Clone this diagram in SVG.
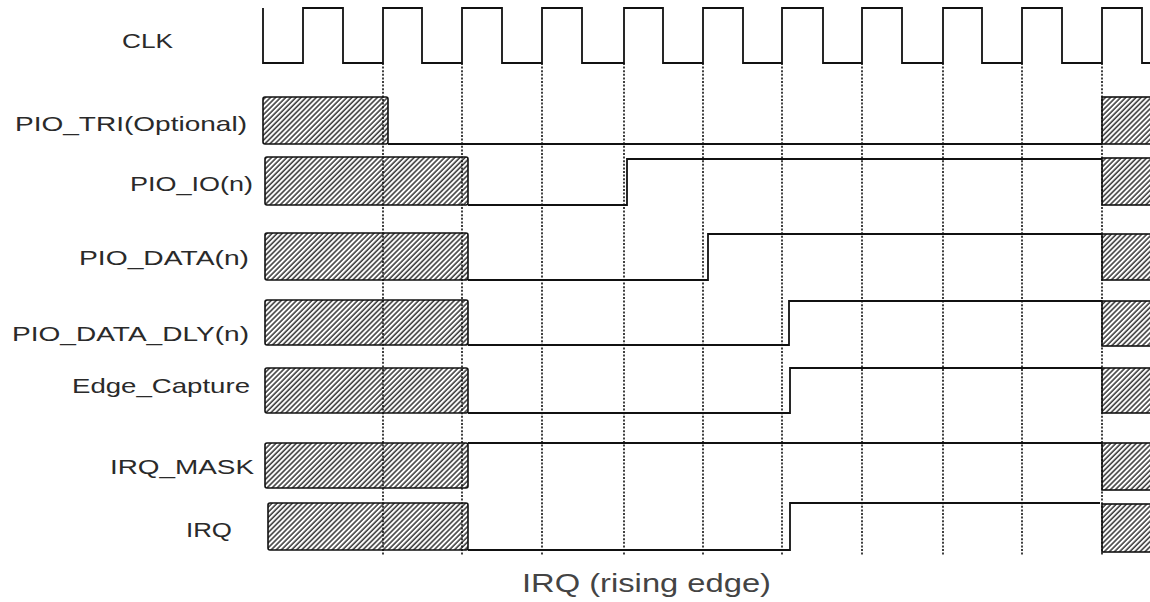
<svg xmlns="http://www.w3.org/2000/svg" width="1150" height="602" viewBox="0 0 1150 602">
<defs>
<pattern id="hatch" width="3.6" height="10" patternUnits="userSpaceOnUse" patternTransform="rotate(45)">
<rect width="3.6" height="10" fill="#fff"/>
<line x1="1" y1="0" x2="1" y2="10" stroke="#333" stroke-width="1.5"/>
</pattern>
<style>
.lbl{font-family:"Liberation Sans",Arial,sans-serif;font-size:21px;fill:#2a2a2a}
.cap{font-family:"Liberation Sans",Arial,sans-serif;font-size:25px;fill:#444}
.wave{fill:none;stroke:#111;stroke-width:1.8}
.box{fill:url(#hatch);stroke:#111;stroke-width:1.6}
.grid{stroke:#111;stroke-width:1.6;stroke-dasharray:2 1.6;fill:none}
</style>
</defs>
<rect width="1150" height="602" fill="#fff"/>

<g id="labels">
<text class="lbl" x="122" y="48" textLength="51" lengthAdjust="spacingAndGlyphs">CLK</text>
<text class="lbl" x="15" y="131" textLength="232" lengthAdjust="spacingAndGlyphs">PIO_TRI(Optional)</text>
<text class="lbl" x="130" y="191" textLength="123" lengthAdjust="spacingAndGlyphs">PIO_IO(n)</text>
<text class="lbl" x="79" y="265" textLength="170" lengthAdjust="spacingAndGlyphs">PIO_DATA(n)</text>
<text class="lbl" x="12" y="341" textLength="237" lengthAdjust="spacingAndGlyphs">PIO_DATA_DLY(n)</text>
<text class="lbl" x="72" y="393" textLength="178" lengthAdjust="spacingAndGlyphs">Edge_Capture</text>
<text class="lbl" x="110" y="474" textLength="144" lengthAdjust="spacingAndGlyphs">IRQ_MASK</text>
<text class="lbl" x="186" y="537" textLength="46" lengthAdjust="spacingAndGlyphs">IRQ</text>
</g>

<g id="clk">
<path class="wave" d="M263,8 V63 H303 V8 H343 V63 H383 V8 H422 V63 H462 V8 H502 V63 H542 V8 H582 V63 H624 V8 H663 V63 H703 V8 H743 V63 H782 V8 H823 V63 H862 V8 H902 V63 H943 V8 H982 V63 H1022 V8 H1062 V63 H1102 V8 H1142 V63 H1150"/>
</g>

<g id="pio_tri">
<rect class="box" x="263" y="97" width="125" height="47" rx="2"/>
<path class="wave" d="M388,144 H1102"/>
<rect class="box" x="1102" y="97" width="52" height="47"/>
</g>

<g id="pio_io">
<rect class="box" x="265" y="157" width="203" height="48" rx="2"/>
<path class="wave" d="M468,205 H627 V159 H1102"/>
<rect class="box" x="1102" y="158" width="52" height="47"/>
</g>

<g id="pio_data">
<rect class="box" x="265" y="233" width="203" height="47" rx="2"/>
<path class="wave" d="M468,280 H708 V234 H1102"/>
<rect class="box" x="1102" y="234" width="52" height="46"/>
</g>

<g id="pio_data_dly">
<rect class="box" x="265" y="300" width="203" height="45" rx="2"/>
<path class="wave" d="M468,345 H789 V301 H1102"/>
<rect class="box" x="1102" y="301" width="52" height="45"/>
</g>

<g id="edge_capture">
<rect class="box" x="265" y="368" width="203" height="45" rx="2"/>
<path class="wave" d="M468,413 H790 V368 H1102"/>
<rect class="box" x="1102" y="368" width="52" height="45"/>
</g>

<g id="irq_mask">
<rect class="box" x="265" y="443" width="203" height="45" rx="2"/>
<path class="wave" d="M468,443 H1102"/>
<rect class="box" x="1102" y="443" width="52" height="47"/>
</g>

<g id="irq">
<rect class="box" x="268" y="503" width="200" height="47" rx="2"/>
<path class="wave" d="M468,550 H790 V503 H1100"/>
<rect class="box" x="1102" y="504" width="52" height="48"/>
</g>

<g id="connectors">
<path class="grid" d="M383,63 V556 M462,63 V556 M542,63 V556 M624,63 V556 M703,63 V556 M782,63 V556 M862,63 V556 M943,63 V556 M1022,63 V556 M1102,63 V556"/>
</g>

<text class="cap" x="522" y="592" textLength="249" lengthAdjust="spacingAndGlyphs">IRQ (rising edge)</text>
</svg>
